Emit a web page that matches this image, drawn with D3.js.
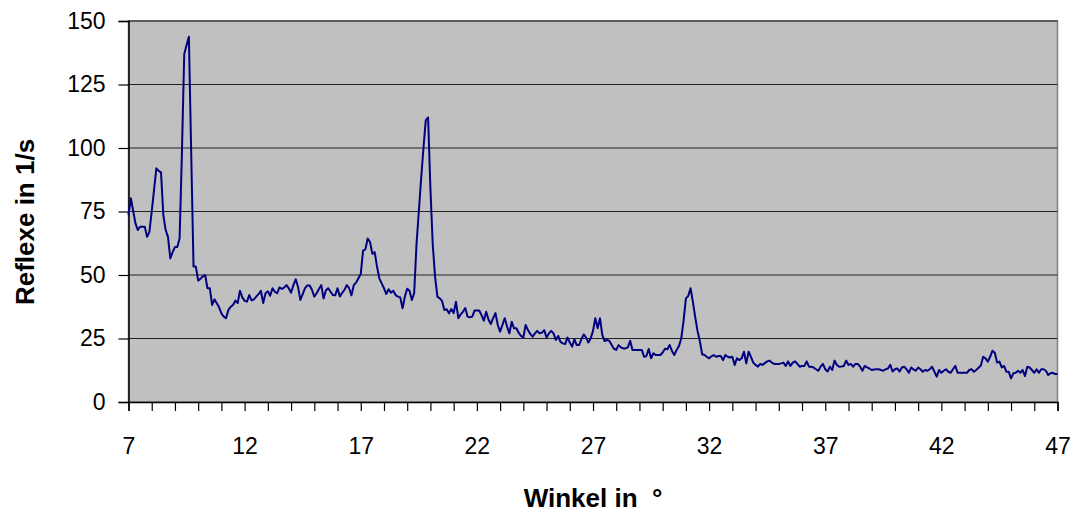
<!DOCTYPE html>
<html>
<head>
<meta charset="utf-8">
<script src="https://cdn.jsdelivr.net/npm/d3@7"></script>
<style>
  body { margin: 0; background: #fff; }
  svg { display: block; font-family: "Liberation Sans", Arial, sans-serif; }
</style>
</head>
<body>
<script>
// Winkel (2 theta) from 7 to 47 in steps of 0.1 degree
const ANGLE_START = 7;
const ANGLE_STEP = 0.1;

// Reflexe in 1/s, one row per degree
const counts = [
  73.6, 80.2, 75.3, 70.3, 67.7, 69, 69, 69, 65, 67,            // 7
  75, 83.5, 92, 91, 90.4, 73.6, 67.7, 65, 56.5, 59,            // 8
  61, 61, 64.4, 98, 137, 140.5, 143.8, 98, 53.3, 53.3,         // 9
  47.8, 48.5, 49.5, 50, 44.8, 44.8, 38.2, 40.4, 38.9, 37.3,    // 10
  34.9, 33.6, 33, 36.2, 37.5, 38.2, 39.9, 39, 43.8, 41.2,      // 11
  39.8, 39.5, 42.1, 40, 40.4, 41.5, 42.5, 43.8, 39, 42.8,      // 12
  43.6, 41.8, 44.8, 43.4, 42.8, 45.1, 44.5, 45, 46, 44.8,      // 13
  43, 46, 48.3, 45.3, 40.2, 42.5, 44.8, 45.9, 45.9, 44.2,      // 14
  41.5, 42.8, 44.5, 46, 40.8, 44, 44.8, 43.4, 42.1, 42,        // 15
  44.8, 41.5, 43, 44.2, 46, 44.8, 42, 46, 47, 48.7,            // 16
  50.4, 59.6, 60.1, 64.4, 63, 58.3, 59, 53.3, 48.7, 46.7,      // 17
  44.8, 42.5, 44.4, 43, 43.8, 42.1, 41.5, 41.2, 36.9, 41.5,    // 18
  44.6, 43.8, 40.2, 42.8, 62, 75, 88, 100, 111, 112,           // 19
  84, 62, 49.3, 41.5, 40.8, 39.8, 36.2, 36.5, 34.9, 36.6,      // 20
  35, 39.5, 33, 34.5, 35.5, 37, 33.6, 33.3, 33.6, 36,          // 21
  36, 36, 34.2, 32, 35.5, 32.5, 30.7, 33, 35, 30.3,            // 22
  27.7, 30.3, 33, 29.7, 27, 31.6, 29, 29, 27.3, 26,            // 23
  25.4, 30.3, 28.3, 26.8, 25.7, 27, 28, 27, 27.3, 28.3,        // 24
  25.4, 27, 28, 27, 24.4, 26, 23.7, 23.1, 22.8, 25.4,          // 25
  23.4, 21.8, 24.7, 22.4, 22.4, 24.7, 26.6, 25.4, 23.4, 25,    // 26
  28, 33, 29, 33, 26.4, 24, 24.4, 24.1, 22.5, 21,              // 27
  20.5, 22.4, 21.5, 21.1, 21.1, 21.5, 24.1, 20.5, 20.5, 20.5,  // 28
  20.5, 20.5, 17.8, 18.1, 20.9, 17.2, 19.2, 18.5, 18.5, 18.5,  // 29
  19.5, 21, 20.8, 22.4, 20.1, 18.5, 20.5, 22, 25, 32,          // 30
  40.8, 41.7, 44.8, 39.5, 33.5, 28, 24, 18.8, 18.5, 17.8,      // 31
  17.2, 18, 18.5, 17.8, 18.1, 18.1, 16.5, 18.5, 17.8, 17.5,    // 32
  17.8, 14.6, 17.2, 16.5, 17.2, 19.8, 15.2, 19.8, 17.8, 15.5,  // 33
  14.6, 13.9, 15, 14.6, 15.3, 16, 16.3, 15.5, 15, 15,          // 34
  15, 15.2, 15.5, 14.2, 16, 14.2, 15.5, 16, 15, 13.9,          // 35
  14.2, 14.2, 16, 13.9, 13.9, 13.6, 12.9, 12.3, 13.9, 15,      // 36
  12.9, 12, 13.9, 12.6, 16.3, 14.6, 13.9, 14, 14.2, 16.3,      // 37
  14.6, 15, 13.9, 15, 15, 13.9, 12.3, 14.2, 13.6, 13.2,        // 38
  12.6, 12.8, 12.9, 12.9, 12.6, 12.3, 12.9, 13.2, 14.6, 12,    // 39
  12.9, 13.2, 12, 13.6, 13.9, 12.9, 11.5, 13.6, 12.8, 12.3,    // 40
  13.6, 12.9, 11.9, 12.6, 12.3, 12.9, 13.9, 11.9, 10, 12.6,    // 41
  11.5, 12.3, 12.9, 11.9, 11.5, 12.9, 14.2, 11.5, 11.5, 11.5,  // 42
  11.5, 11.5, 12.6, 12.9, 11.9, 12.6, 13.5, 14.4, 17.8, 17.2,  // 43
  15.9, 17.8, 20.2, 19.4, 15.5, 15.9, 13.6, 14.2, 11.9, 11.9,  // 44
  9.3, 11.3, 11.5, 12.3, 11.5, 12.6, 10.2, 13.9, 13.6, 12.6,   // 45
  11.5, 12.9, 11.5, 12.9, 12.9, 12.3, 10.6, 11.3, 11.5, 11,    // 46
  11                                                           // 47
];

const xLabels = [7, 12, 17, 22, 27, 32, 37, 42, 47];
const yTicks = [0, 25, 50, 75, 100, 125, 150];

const points = counts.map((c, i) => ({ angle: ANGLE_START + i * ANGLE_STEP, count: c }));

const width = 1076;
const height = 513;
const margin = { left: 128.5, right: 18.5, top: 21, bottom: 111 };

const svg = d3.select('body').append('svg')
    .attr('width', width)
    .attr('height', height);

const x = d3.scaleLinear().domain([7, 47]).range([margin.left, width - margin.right]);
const y = d3.scaleLinear().domain([0, 150]).range([height - margin.bottom, margin.top]);

// plot area
svg.append('rect')
    .attr('x', x(7)).attr('y', y(150))
    .attr('width', x(47) - x(7)).attr('height', y(0) - y(150))
    .attr('fill', '#c0c0c0')
    .attr('stroke', '#808080')
    .attr('stroke-width', 1.5);

// gridlines
svg.append('g')
    .selectAll('line')
    .data(yTicks.filter(t => t > 0))
    .join('line')
    .attr('x1', x(7)).attr('x2', x(47))
    .attr('y1', d => y(d)).attr('y2', d => y(d))
    .attr('stroke', '#222')
    .attr('stroke-width', 1.2);

// y axis
const yAxis = svg.append('g')
    .attr('transform', `translate(${x(7)},0)`)
    .call(d3.axisLeft(y).tickValues(yTicks).tickSize(10).tickPadding(13));
yAxis.select('.domain').attr('stroke', '#000').attr('stroke-width', 1.5);
yAxis.selectAll('.tick line').attr('stroke', '#000').attr('stroke-width', 1.2);
yAxis.selectAll('.tick text')
    .attr('font-size', 23)
    .attr('fill', '#000')
    .style('font-family', '"Liberation Sans", Arial, sans-serif');

// x axis: a tick for every degree, labels every 5
const xAxis = svg.append('g')
    .attr('transform', `translate(0,${y(0)})`)
    .call(d3.axisBottom(x).tickValues(d3.range(7, 48, 1)).tickSize(9)
        .tickFormat(d => xLabels.includes(d) ? d : ''));
xAxis.select('.domain').attr('stroke', '#000').attr('stroke-width', 1.5);
xAxis.selectAll('.tick line').attr('stroke', '#000').attr('stroke-width', 1.2);
xAxis.selectAll('.tick text')
    .attr('y', 36)
    .attr('font-size', 23)
    .attr('fill', '#000')
    .style('font-family', '"Liberation Sans", Arial, sans-serif');

// data line
const line = d3.line()
    .x(d => x(d.angle))
    .y(d => y(d.count));

svg.append('path')
    .datum(points)
    .attr('fill', 'none')
    .attr('stroke', '#000080')
    .attr('stroke-width', 2)
    .attr('stroke-linejoin', 'round')
    .attr('d', line);

// axis titles
svg.append('text')
    .attr('x', 593)
    .attr('y', 507)
    .attr('text-anchor', 'middle')
    .attr('font-size', 26)
    .attr('font-weight', 'bold')
    .style('white-space', 'pre')
    .text('Winkel in  °');

svg.append('text')
    .attr('transform', 'translate(34,222) rotate(-90)')
    .attr('text-anchor', 'middle')
    .attr('font-size', 26)
    .attr('font-weight', 'bold')
    .text('Reflexe in 1/s');
</script>
</body>
</html>
